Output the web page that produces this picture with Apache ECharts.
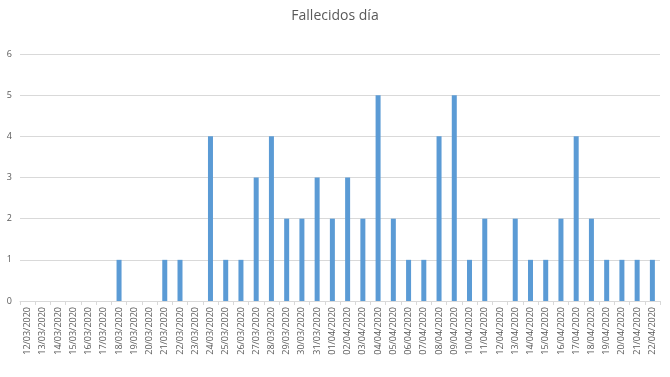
<!DOCTYPE html>
<html>
<head>
<meta charset="utf-8">
<script src="https://cdn.jsdelivr.net/npm/echarts@6/dist/echarts.min.js"></script>
<style>
  html, body { margin: 0; padding: 0; background: #fff; }
  #chart { width: 670px; height: 377px; }
</style>
</head>
<body>
<div id="chart"></div>
<script>
const dates = [
  "12/03/2020", "13/03/2020", "14/03/2020", "15/03/2020", "16/03/2020", "17/03/2020",
  "18/03/2020", "19/03/2020", "20/03/2020", "21/03/2020", "22/03/2020", "23/03/2020",
  "24/03/2020", "25/03/2020", "26/03/2020", "27/03/2020", "28/03/2020", "29/03/2020",
  "30/03/2020", "31/03/2020", "01/04/2020", "02/04/2020", "03/04/2020", "04/04/2020",
  "05/04/2020", "06/04/2020", "07/04/2020", "08/04/2020", "09/04/2020", "10/04/2020",
  "11/04/2020", "12/04/2020", "13/04/2020", "14/04/2020", "15/04/2020", "16/04/2020",
  "17/04/2020", "18/04/2020", "19/04/2020", "20/04/2020", "21/04/2020", "22/04/2020"
];
const fallecidos = [
  0, 0, 0, 0, 0, 0,
  1, 0, 0, 1, 1, 0,
  4, 1, 1, 3, 4, 2,
  2, 3, 2, 3, 2, 5,
  2, 1, 1, 4, 5, 1,
  2, 0, 2, 1, 1, 2,
  4, 2, 1, 1, 1, 1
];

const chart = echarts.init(document.getElementById("chart"));
chart.setOption({
  backgroundColor: "#fff",
  animation: false,
  textStyle: { fontFamily: "Open Sans" },
  title: {
    text: "Fallecidos día",
    left: "center",
    top: 4,
    textStyle: { color: "#595959", fontSize: 14, fontWeight: "normal", fontFamily: "Open Sans" }
  },
  grid: { left: 20, right: 10, top: 54, bottom: 76, containLabel: false },
  xAxis: {
    type: "category",
    data: dates,
    axisLine: { lineStyle: { color: "#d9d9d9" } },
    axisTick: { show: true, length: 4, lineStyle: { color: "#d9d9d9" } },
    axisLabel: { rotate: 90, interval: 0, fontSize: 9, color: "#595959", margin: 6 }
  },
  yAxis: {
    type: "value",
    min: 0,
    max: 6,
    interval: 1,
    axisLine: { show: false },
    axisTick: { show: false },
    axisLabel: { fontSize: 9, color: "#595959", margin: 8 },
    splitLine: { lineStyle: { color: "#d9d9d9" } }
  },
  series: [{
    name: "Fallecidos día",
    type: "bar",
    data: fallecidos,
    barWidth: 5,
    itemStyle: { color: "#5b9bd5", borderWidth: 0 }
  }]
});
</script>
</body>
</html>
